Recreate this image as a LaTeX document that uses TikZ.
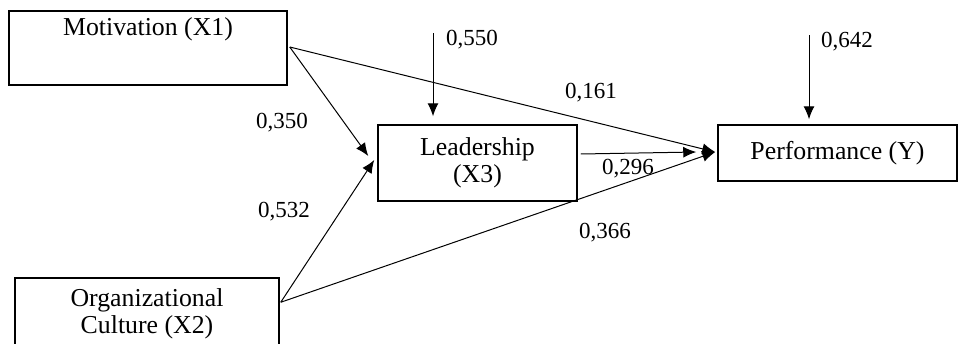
\documentclass[tikz,border=0pt]{standalone}
\usepackage{fontspec}
\setmainfont{Liberation Serif}
\usetikzlibrary{arrows.meta,calc}
\begin{document}
\begin{tikzpicture}[x=1pt,y=-1pt,
 box/.style={draw, line width=1.5pt, inner sep=0pt},
 lbl/.style={font=\fontsize{25.8}{27}\selectfont, align=center, inner sep=0pt},
 coef/.style={font=\fontsize{23}{25}\selectfont, inner sep=0pt},
 arr/.style={line width=1pt, -{Latex[length=13pt,width=11pt]}}]
\useasboundingbox (0,0) rectangle (958,343);
\clip (0,0) rectangle (958,343);
% boxes
\node[box, minimum width=278pt, minimum height=74pt] (mot) at (148,48) {};
\node[lbl] (motT) at (148,29) {Motivation (X1)};
\node[box, lbl, minimum width=199pt, minimum height=76pt] (lead) at (477.5,163) {Leadership\\(X3)};
\node[box, lbl, minimum width=239pt, minimum height=56pt] (perf) at (837.5,153) {Performance (Y)};
\node[box, minimum width=264pt, minimum height=90pt] (org) at (147,323) {};
\node[lbl] (orgT) at (147,314) {Organizational\\Culture (X2)};
% anchor coordinates
\coordinate (motE) at ($(mot.east)+(2,-1)$);
\coordinate (orgE) at ($(org.north east)+(1,25)$);
\coordinate (leadIn1) at ($(lead.west)+(-9,-7)$);
\coordinate (leadIn2) at ($(lead.west)+(-3,-3)$);
\coordinate (perfIn) at ($(perf.west)+(-2,-1)$);
\coordinate (leadOut) at ($(lead.east)+(3,-9)$);
\coordinate (perfIn2) at ($(perf.west)+(-21,-1)$);
\coordinate (e1) at (433,33);
\coordinate (e2) at (809,35);
% connectors
\draw[arr] (motE) -- (leadIn1);
\draw[arr] (orgE) -- (leadIn2);
\draw[arr] (motE) -- (perfIn);
\draw[arr] (orgE) -- (perfIn);
\draw[arr] (leadOut) -- (perfIn2);
\draw[arr, shorten >=8pt] (e1) -- (e1 |- lead.north);
\draw[arr, shorten >=5pt] (e2) -- (e2 |- perf.north);
% coefficients
\node[coef] (c350) at (282,123) {0,350};
\node[coef] (c532) at (284,212) {0,532};
\node[coef] (c550) at (472,40) {0,550};
\node[coef] (c161) at (591,93) {0,161};
\node[coef] (c296) at (628,169) {0,296};
\node[coef] (c366) at (605,233) {0,366};
\node[coef] (c642) at (847,42) {0,642};
\end{tikzpicture}
\end{document}
